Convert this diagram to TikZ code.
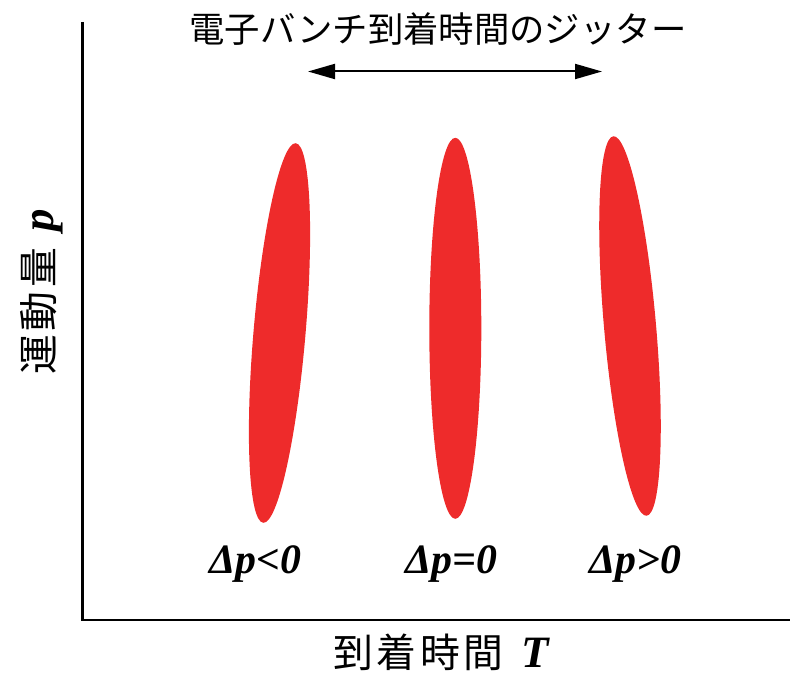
\documentclass[tikz,border=0pt]{standalone}
\usepackage{fontspec}
\setmainfont{Liberation Serif}
\newfontfamily\jp{Noto Sans CJK JP}
\newfontfamily\jpw[LetterSpace=9]{Noto Sans CJK JP}
\usetikzlibrary{shapes.geometric,arrows.meta}
\definecolor{bunchred}{RGB}{238,43,43}
\tikzset{
  bunch/.style={ellipse, fill=bunchred, draw=none, inner sep=0pt, minimum width=52bp, minimum height=381bp},
  axisline/.style={line width=2.5bp, black},
  jitter/.style={line width=2bp, {Triangle[length=27bp,width=15bp]}-{Triangle[length=27bp,width=15bp]}},
  dplabel/.style={font=\fontsize{42}{48}\selectfont\bfseries\itshape, inner sep=0pt, anchor=base},
}
\begin{document}
\begin{tikzpicture}[x=1bp,y=-1bp]
\useasboundingbox (0,0) rectangle (790,676);
% axes
\coordinate (top) at (82.5,22);
\coordinate (origin) at (82.5,620);
\coordinate (right) at (790,620);
\draw[axisline] (top) -- (origin) -- (right);
% title
\node[inner sep=0pt, font=\jp\fontsize{35.5}{40}\selectfont] (title) at (438,29.5) {電子バンチ到着時間のジッター};
% jitter arrow
\coordinate (aL) at (308,71.5);
\coordinate (aR) at (602,71.5);
\draw[jitter] (aL) -- (aR);
% bunches
\node[bunch, rotate=-4.9] (b1) at (279.5,333) {};
\node[bunch] (b2) at (455.3,328.3) {};
\node[bunch, rotate=5] (b3) at (630,326) {};
% labels
\node[dplabel] (l1) at (255,573) {Δp<0};
\node[dplabel] (l2) at (451,573) {Δp=0};
\node[dplabel] (l3) at (635,573) {Δp>0};
% axis labels
\node[inner sep=0pt, anchor=base, text depth=0pt] (xl) at (441,667) {{\jpw\fontsize{40}{44}\selectfont 到着時間}\hspace{18bp}{\fontsize{45}{50}\selectfont\bfseries\itshape T}};
\node[inner sep=0pt, rotate=90] (yl) at (42,292) {{\jpw\fontsize{40}{44}\selectfont 運動量}\hspace{16bp}{\fontsize{45}{50}\selectfont\bfseries\itshape p}};
\end{tikzpicture}
\end{document}
